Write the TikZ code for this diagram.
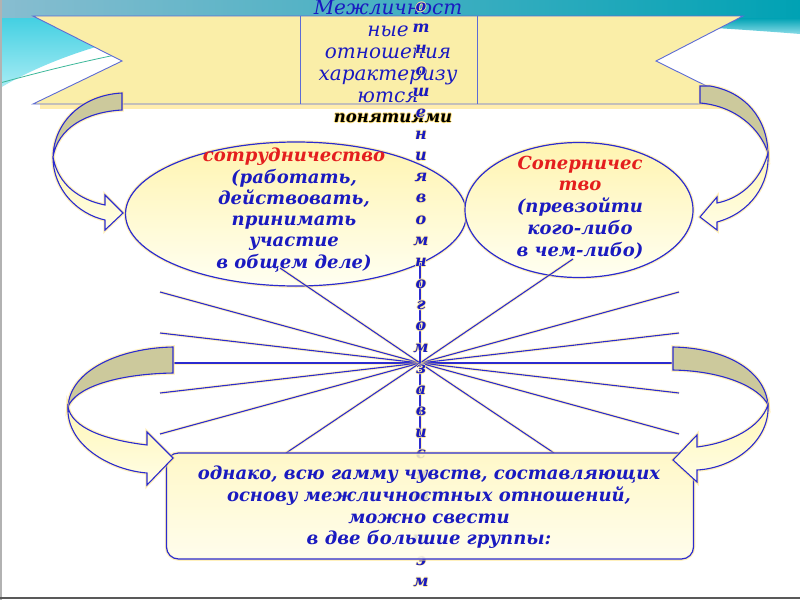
\documentclass[tikz,border=0pt]{standalone}
\usepackage{fontspec}
\setmainfont{DejaVu Serif}
\usetikzlibrary{shapes.geometric}
\definecolor{ln}{HTML}{2B2BCF}
\definecolor{txtblue}{HTML}{1A1AC0}
\definecolor{txtred}{HTML}{E41E1E}
\definecolor{bannerfill}{HTML}{FAEEA8}
\definecolor{bannerline}{HTML}{5C6BD6}
\definecolor{backface}{HTML}{CCC99C}
\definecolor{frontA}{HTML}{FFF7B8}
\definecolor{frontB}{HTML}{FFFDE6}
\definecolor{ellA}{HTML}{FFF4B0}
\definecolor{ellB}{HTML}{FFFFF2}
\definecolor{boxA}{HTML}{FFF8C0}
\definecolor{boxB}{HTML}{FFFDEA}
\definecolor{glowc}{HTML}{FFE27A}
\definecolor{glowt}{HTML}{FFEC9E}
\definecolor{bandL}{HTML}{88BDD0}
\definecolor{bandR}{HTML}{00A2B4}
\definecolor{cyanA}{HTML}{44D0E2}
\definecolor{cyanB}{HTML}{A8ECF4}
\definecolor{cyanC}{HTML}{8ADCE8}
\definecolor{wave}{HTML}{3CB89A}
\newcommand{\glowtxt}[1]{\leavevmode\rlap{\color{glowt}\kern-0.8pt #1}\rlap{\color{glowt}\kern0.8pt #1}\rlap{\color{glowt}\raisebox{0.8pt}{#1}}\rlap{\color{glowt}\raisebox{-0.8pt}{#1}}#1}
\newcommand{\glowdark}[1]{\leavevmode\rlap{\color{glowc}\kern-1pt #1}\rlap{\color{glowc}\kern1pt #1}\rlap{\color{glowc}\raisebox{1pt}{#1}}\rlap{\color{glowc}\raisebox{-1pt}{#1}}#1}
\tikzset{
  glow/.style={preaction={draw=glowc, line width=3.5pt, draw opacity=0.5}},
  ray/.style={draw=ln, line width=1.1pt, preaction={draw=glowc, line width=3pt, draw opacity=0.45}},
  arrowback/.style={draw=ln, line width=1.1pt, fill=backface, glow},
  arrowfront/.style={draw=ln, line width=1.1pt, top color=frontA, bottom color=frontB, glow},
  eltxt/.style={anchor=base, font=\fontsize{18}{21}\selectfont\bfseries\itshape, text=txtblue, inner sep=0pt},
  bantxt/.style={anchor=base, font=\fontsize{20}{23}\selectfont\itshape, text=txtblue, inner sep=0pt},
  vlet/.style={anchor=base, font=\fontsize{16}{18}\selectfont\bfseries\itshape, text=txtblue, inner sep=0pt}
}
\begin{document}
\begin{tikzpicture}[x=1pt,y=-1pt]
\useasboundingbox (0,0) rectangle (800,600);
% background
\fill[white] (0,0) rectangle (800,600);
\shade[left color=bandL, right color=bandR] (0,0) rectangle (800,18);
\shade[top color=cyanA, bottom color=cyanB] (0,18) -- (260,18) .. controls (150,26) and (60,52) .. (0,88) -- cycle;
\shade[top color=bandR, bottom color=cyanC] (480,18) -- (800,18) -- (800,34) .. controls (700,26) and (580,20) .. (480,18) -- cycle;
\draw[wave, line width=0.8pt] (0,83) .. controls (40,72) and (80,62) .. (130,52);
\draw[gray!60, line width=2pt] (1,0) -- (1,600);
\draw[gray!70!black, line width=1.5pt] (0,598) -- (800,598);
% banner
\draw[glowc, line width=5pt, opacity=0.6] (40,106) -- (740,106);
\draw[bannerline, fill=bannerfill, line width=0.9pt] (33,16) -- (743,16) -- (656,61) -- (743,104) -- (33,104) -- (122,61) -- cycle;
\draw[bannerline, line width=0.9pt] (300,16) -- (300,104) (477,16) -- (477,104);
\foreach \yy/\tt [count=\i] in {14.7/Межличност, 36.6/ные, 58.5/отношения, 80.4/характеризу, 102.3/ются} {
  \node[bantxt] (b\i) at (388,\yy) {\tt};
}
\node[anchor=base, font=\fontsize{16.5}{19}\selectfont\bfseries\itshape, inner sep=0pt] (pn) at (393,122.5) {\glowdark{понятиями}};
% ellipses
\node[ellipse, draw=ln, line width=1.2pt, top color=ellA, bottom color=ellB, glow, minimum width=341pt, minimum height=144pt, inner sep=0pt] (e1) at (296,214) {};
\node[ellipse, draw=ln, line width=1.2pt, top color=ellA, bottom color=ellB, glow, minimum width=228pt, minimum height=135pt, inner sep=0pt] (e2) at (579,210) {};
\node[eltxt, text=txtred] (l1) at (294,161.7) {сотрудничество};
\foreach \yy/\tt [count=\i from 2] in {183/{(работать,}, 204.3/{действовать,}, 225.6/{принимать}, 246.9/{участие}, 268.2/{в общем деле)}} {
  \node[eltxt] (l\i) at (294,\yy) {\tt};
}
\node[eltxt, text=txtred] (r1) at (580,169.7) {Соперничес};
\node[eltxt, text=txtred] (r2) at (580,190.2) {тво};
\foreach \yy/\tt [count=\i from 3] in {212.7/{(превзойти}, 234.7/{кого-либо}, 256.7/{в чем-либо)}} {
  \node[eltxt] (r\i) at (580,\yy) {\tt};
}
% star of rays
\coordinate (c) at (420,363);
\coordinate (p1) at (160,292);
\coordinate (p2) at (160,333);
\coordinate (p3) at (174,363);
\coordinate (p4) at (160,393);
\coordinate (p5) at (160,434);
\coordinate (p6) at (280,268);
\coordinate (p7) at (286,453);
\coordinate (q1) at (679,292);
\coordinate (q2) at (679,333);
\coordinate (q3) at (672,363);
\coordinate (q4) at (679,393);
\coordinate (q5) at (679,434);
\coordinate (q6) at (573,259);
\coordinate (q7) at (554,453);
\coordinate (vu) at (420,263);
\coordinate (vd) at (420,453);
\foreach \pp in {p1,p2,p3,p4,p5,p6,p7,q1,q2,q3,q4,q5,q6,q7,vu,vd} {
  \draw[ray] (c) -- (\pp);
}
% vertical letters
\foreach \ch [count=\i] in {о,т,н,о,ш,е,н,и,я,в,о,м,н,о,г,о,м,з,а,в,и,с,я,т,о,т,э,м} {
  \node[vlet] (v\i) at (421,{11.2+(\i-1)*21.3}) {\glowtxt{\ch}};
}
% bottom box
\node[draw=ln, line width=1.2pt, rounded corners=12pt, top color=boxA, bottom color=boxB, fill opacity=0.86, glow, minimum width=527pt, minimum height=106pt, inner sep=0pt] (bx) at (430,506) {};
\foreach \yy/\tt [count=\i] in {479.7/{однако, всю гамму чувств, составляющих}, 501.4/{основу межличностных отношений,}, 523.1/{можно свести}, 544.8/{в две большие группы:}} {
  \node[eltxt] (k\i) at (429,\yy) {\tt};
}
% curved arrows
\draw[arrowback] (122,93) .. controls (82,95) and (54,122) .. (53,157) .. controls (58,128) and (86,112) .. (122,110) -- cycle;
\draw[arrowfront] (53,157) .. controls (53,190) and (78,214) .. (105,220) -- (105,230) -- (123,213) -- (105,195) -- (105,205) .. controls (80,200) and (58,185) .. (53,157) -- cycle;
\draw[arrowback] (700,86) -- (710,86) .. controls (745,92) and (767,118) .. (768,153) .. controls (760,128) and (735,106) .. (700,103) -- cycle;
\draw[arrowfront] (768,153) .. controls (770,185) and (750,213) .. (717,222) -- (717,230) -- (700,217) -- (717,197) -- (717,203) .. controls (738,199) and (760,183) .. (768,153) -- cycle;
\draw[arrowback] (173,347) .. controls (120,348) and (70,370) .. (68,407) .. controls (75,388) and (115,374) .. (173,373) -- cycle;
\draw[arrowfront] (68,407) .. controls (66,445) and (110,470) .. (147,473) -- (147,485) -- (173,458) -- (147,432) -- (147,445) .. controls (105,440) and (72,428) .. (68,407) -- cycle;
\draw[arrowback] (673,347) .. controls (725,348) and (765,370) .. (768,405) .. controls (760,388) and (725,371) .. (673,370) -- cycle;
\draw[arrowfront] (768,405) .. controls (770,440) and (735,468) .. (697,470) -- (697,482) -- (673,460) -- (697,435) -- (697,447) .. controls (730,443) and (760,428) .. (768,405) -- cycle;
\end{tikzpicture}
\end{document}
